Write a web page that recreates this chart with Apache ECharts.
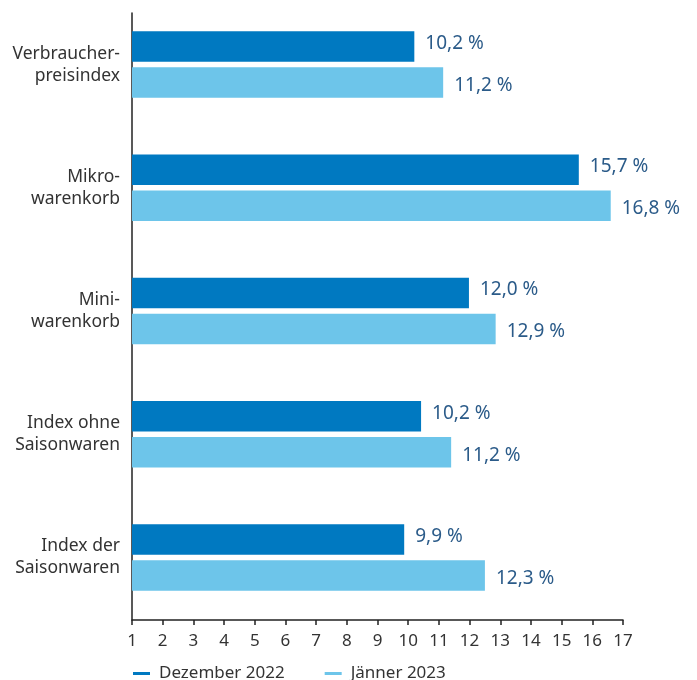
<!DOCTYPE html>
<html>
<head>
<meta charset="utf-8">
<script src="https://cdn.jsdelivr.net/npm/echarts@6/dist/echarts.min.js"></script>
<style>
  html, body { margin: 0; padding: 0; background: #fff; }
  #chart { width: 697px; height: 680px; }
</style>
</head>
<body>
<div id="chart"></div>
<script>
// Kategorien (von oben nach unten)
var categories = [
  "Verbraucher-\npreisindex",
  "Mikro-\nwarenkorb",
  "Mini-\nwarenkorb",
  "Index ohne\nSaisonwaren",
  "Index der\nSaisonwaren"
];
var seriesNames = ["Dezember 2022", "Jänner 2023"];
// Balkenlängen, so wie sie im Bild gezeichnet sind
var dezValues = [10.2, 15.56, 11.98, 10.42, 9.87];
var janValues = [11.14, 16.6, 12.85, 11.4, 12.5];
// Beschriftungen an den Balken
var dezLabels = ["10,2 %", "15,7 %", "12,0 %", "10,2 %", "9,9 %"];
var janLabels = ["11,2 %", "16,8 %", "12,9 %", "11,2 %", "12,3 %"];
var xMin = 1, xMax = 17, xStep = 1;

var font = "Noto Sans";
var chart = echarts.init(document.getElementById("chart"));

function barSeries(name, values, labels, color, dy) {
  return {
    name: name,
    type: "bar",
    xAxisIndex: 0,
    yAxisIndex: 0,
    barWidth: 30.5,
    barGap: "18%",
    itemStyle: { color: color },
    label: {
      show: true,
      position: "right",
      distance: 11,
      offset: [0, dy],
      color: "#2b5b89",
      fontFamily: font,
      fontSize: 19,
      formatter: function (p) { return labels[p.dataIndex]; }
    },
    emphasis: { disabled: true },
    data: values
  };
}

chart.setOption({
  animation: false,
  textStyle: { fontFamily: font },
  grid: [
    // Balken
    { left: 132, right: 74, top: 3, bottom: 61 },
    // sichtbare Achsen
    { left: 132, right: 74, top: 13, bottom: 60 }
  ],
  legend: {
    left: 133,
    top: 665,
    padding: 0,
    icon: "rect",
    itemWidth: 17,
    itemHeight: 3,
    itemGap: 40,
    textStyle: { fontFamily: font, fontSize: 17, color: "#333", padding: [0, 0, 0, 4] },
    data: seriesNames
  },
  xAxis: [
    { gridIndex: 0, type: "value", min: xMin, max: xMax, show: false },
    {
      gridIndex: 1,
      type: "value",
      min: xMin,
      max: xMax,
      interval: xStep,
      axisLine: { show: true, lineStyle: { color: "#222", width: 1.5 } },
      axisTick: { show: true, length: 5, lineStyle: { color: "#222", width: 1.5 } },
      axisLabel: { color: "#333", fontFamily: font, fontSize: 17, margin: 13 },
      splitLine: { show: false }
    }
  ],
  yAxis: [
    {
      gridIndex: 0,
      type: "category",
      inverse: true,
      data: categories,
      axisLine: { show: false },
      axisTick: { show: false },
      axisLabel: {
        color: "#333",
        fontFamily: font,
        fontSize: 17.5,
        lineHeight: 22,
        margin: 12,
        align: "right"
      }
    },
    {
      gridIndex: 1,
      type: "value",
      axisLine: { show: true, lineStyle: { color: "#222", width: 1.5 } },
      axisTick: { show: false },
      axisLabel: { show: false },
      splitLine: { show: false }
    }
  ],
  series: [
    barSeries(seriesNames[0], dezValues, dezLabels, "#0079c1", -3),
    barSeries(seriesNames[1], janValues, janLabels, "#6dc5ea", 3)
  ]
});
</script>
</body>
</html>
